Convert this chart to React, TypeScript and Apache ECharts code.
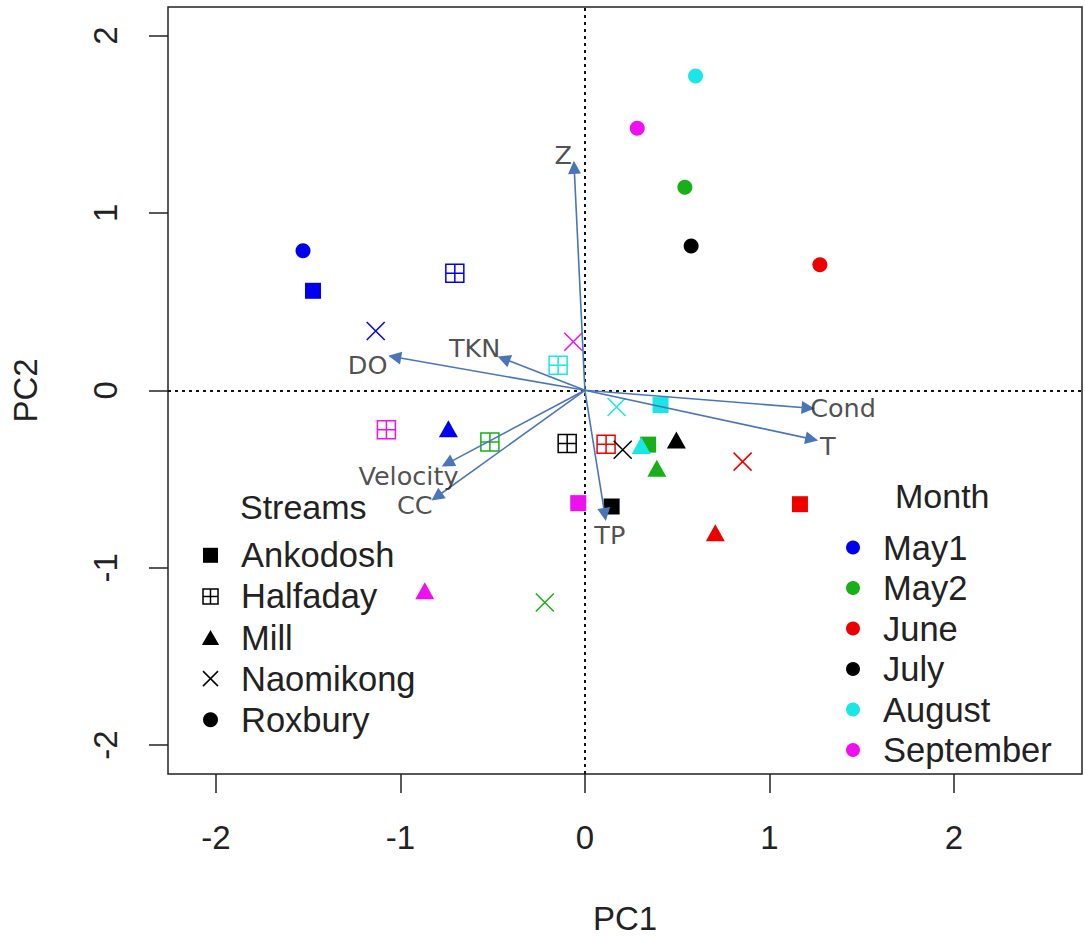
import React, { useEffect, useRef } from "react";
import * as echarts from "echarts";

// ---- data ----
const months = ["May1", "May2", "June", "July", "August", "September"];
const monthColors = ["#0000F0", "#18B018", "#EE0000", "#000000", "#1AE6E6", "#EE10EE"];
const streams = ["Ankodosh", "Halfaday", "Mill", "Naomikong", "Roxbury"];

// values ordered by month (May1, May2, June, July, August, September)
const ankodoshX = [-1.474, 0.343, 1.166, 0.145, 0.41, -0.036];
const ankodoshY = [0.561, -0.306, -0.642, -0.655, -0.083, -0.636];
const halfadayX = [-0.705, -0.515, 0.115, -0.096, -0.145, -1.076];
const halfadayY = [0.66, -0.291, -0.304, -0.3, 0.142, -0.222];
const millX = [-0.74, 0.39, 0.707, 0.496, 0.305, -0.868];
const millY = [-0.216, -0.44, -0.803, -0.28, -0.311, -1.13];
const naomikongX = [-1.134, -0.217, 0.855, 0.205, 0.172, -0.063];
const naomikongY = [0.334, -1.196, -0.402, -0.335, -0.094, 0.274];
const roxburyX = [-1.528, 0.542, 1.274, 0.576, 0.6, 0.284];
const roxburyY = [0.787, 1.145, 0.708, 0.813, 1.772, 1.478];

const arrowNames = ["Z", "DO", "TKN", "Velocity", "CC", "TP", "Cond", "T"];
const arrowX = [-0.058, -1.031, -0.44, -0.745, -0.803, 0.108, 1.21, 1.23];
const arrowY = [1.257, 0.188, 0.178, -0.412, -0.6, -0.7, -0.1, -0.275];

const xTicks = [-2, -1, 0, 1, 2];
const yTicks = [-2, -1, 0, 1, 2];
const xRange = [-2.26, 2.695];
const yRange = [-2.163, 2.161];

// ---- styles ----
const SQUARE = "path://M0,0H10V10H0Z";
const BOXPLUS = "path://M0,0H10V10H0Z M5,0V10 M0,5H10";
const TRIANGLE = "path://M5,0L10,8.66L0,8.66Z";
const CROSS = "path://M0,0L10,10 M10,0L0,10";
const streamStyles = [
  { symbol: SQUARE, size: 16, stroke: false },
  { symbol: BOXPLUS, size: 18, stroke: true },
  { symbol: TRIANGLE, size: [19, 17], stroke: false },
  { symbol: CROSS, size: 18, stroke: true },
  { symbol: "circle", size: 15, stroke: false },
];
const arrowLabelOffsets = [
  [-11, -12],
  [-27, 8],
  [-29, -11],
  [-39, 13],
  [-22, 8],
  [5, 21],
  [35, 0],
  [16, 7],
];
const SANS = "Liberation Sans, Arial, sans-serif";
const TEXT = "#222";

export default function App() {
  const ref = useRef<HTMLDivElement>(null);
  useEffect(() => {
    if (!ref.current) return;
    const chart = echarts.init(ref.current, undefined, { renderer: "svg" });
    const xs = [ankodoshX, halfadayX, millX, naomikongX, roxburyX];
    const ys = [ankodoshY, halfadayY, millY, naomikongY, roxburyY];

    const streamSeries: any[] = streams.map((name, si) => {
      const st = streamStyles[si];
      return {
        type: "scatter",
        name,
        symbol: st.symbol,
        symbolSize: st.size,
        z: 4,
        silent: true,
        itemStyle: st.stroke
          ? { color: "none", borderColor: "#000", borderWidth: 1.5, opacity: 1 }
          : { color: "#000", opacity: 1 },
        data: months.map((m, mi) => ({
          name: m,
          value: [xs[si][mi], ys[si][mi]],
          itemStyle: st.stroke ? { borderColor: monthColors[mi] } : { color: monthColors[mi] },
        })),
        ...(si === 0
          ? {
              markLine: {
                silent: true,
                symbol: ["none", "none"],
                label: { show: false },
                lineStyle: { type: [3, 4], color: "#111", width: 2 },
                data: [{ xAxis: 0 }, { yAxis: 0 }],
                z: 2,
              },
            }
          : {}),
      };
    });

    const monthSeries: any[] = months.map((m, mi) => ({
      type: "scatter",
      name: m,
      symbol: "circle",
      itemStyle: { color: monthColors[mi], opacity: 1 },
      data: [],
    }));

    const titleStyle = { fontFamily: SANS, fontSize: 34, fontWeight: "normal", color: TEXT, lineHeight: 34 };
    const legendText = { fontFamily: SANS, fontSize: 34.5, lineHeight: 32, color: TEXT };

    const option: any = {
      animation: false,
      grid: {
        left: 168,
        top: 7,
        right: 3,
        bottom: 162,
        show: true,
        borderColor: "#222",
        borderWidth: 1.5,
      },
      title: [
        { text: "Streams", left: 240, top: 490, padding: 0, textStyle: titleStyle },
        { text: "Month", left: 895, top: 479, padding: 0, textStyle: titleStyle },
      ],
      legend: [
        {
          data: streams,
          orient: "vertical",
          left: 200.5,
          top: 537.8,
          padding: 0,
          itemWidth: 51,
          itemHeight: 15,
          itemGap: 6.1,
          selectedMode: false,
          itemStyle: { borderWidth: 1.5 },
          textStyle: legendText,
        },
        {
          data: months,
          orient: "vertical",
          left: 846,
          top: 530,
          padding: 0,
          itemWidth: 50,
          itemHeight: 14,
          itemGap: 5.5,
          selectedMode: false,
          textStyle: legendText,
        },
      ],
      xAxis: {
        type: "value",
        min: xRange[0],
        max: xRange[1],
        axisLine: { show: false, onZero: false },
        splitLine: { show: false },
        axisTick: { show: true, customValues: xTicks, length: 19, lineStyle: { color: "#222", width: 1.5 } },
        axisLabel: { customValues: xTicks, margin: 47, fontFamily: SANS, fontSize: 33, color: TEXT },
        name: "PC1",
        nameLocation: "middle",
        nameGap: 128,
        nameTextStyle: { fontFamily: SANS, fontSize: 33, color: TEXT },
      },
      yAxis: {
        type: "value",
        min: yRange[0],
        max: yRange[1],
        axisLine: { show: false, onZero: false },
        splitLine: { show: false },
        axisTick: { show: true, customValues: yTicks, length: 19, lineStyle: { color: "#222", width: 1.5 } },
        axisLabel: { customValues: yTicks, margin: 46, rotate: 90, fontFamily: SANS, fontSize: 33, color: TEXT },
        name: "PC2",
        nameLocation: "middle",
        nameGap: 126,
        nameTextStyle: { fontFamily: SANS, fontSize: 33, color: TEXT },
      },
      series: [
        ...streamSeries,
        ...monthSeries,
        {
          type: "lines",
          coordinateSystem: "cartesian2d",
          silent: true,
          z: 5,
          symbol: ["none", "triangle"],
          symbolSize: 13,
          lineStyle: { color: "#4A76B8", width: 1.6, opacity: 1 },
          data: arrowNames.map((n, i) => ({ name: n, coords: [[0, 0], [arrowX[i], arrowY[i]]] })),
        },
        {
          type: "scatter",
          name: "arrowLabels",
          symbol: "circle",
          symbolSize: 1,
          silent: true,
          z: 6,
          itemStyle: { color: "transparent" },
          label: {
            show: true,
            position: "inside",
            formatter: "{b}",
            fontFamily: "DejaVu Sans, sans-serif",
            fontSize: 25.5,
            color: "#222",
          },
          data: arrowNames.map((n, i) => ({
            name: n,
            value: [arrowX[i], arrowY[i]],
            label: { offset: arrowLabelOffsets[i] },
          })),
        },
      ],
    };
    chart.setOption(option);
    return () => chart.dispose();
  }, []);
  return (
    <div
      ref={ref}
      style={{ position: "fixed", left: 0, top: 0, width: 1085, height: 940, background: "#fff" }}
    />
  );
}
